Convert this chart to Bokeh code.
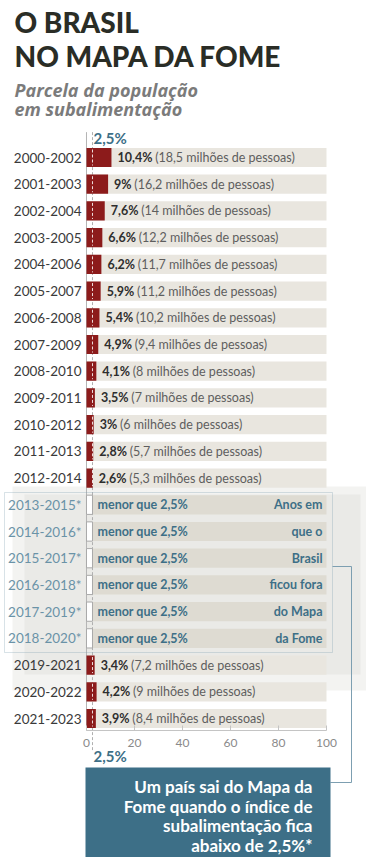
from bokeh.plotting import figure
from bokeh.models import (ColumnDataSource, Range1d, LinearAxis, FixedTicker, Label,
                          BoxAnnotation, Arrow)
from bokeh.core.properties import value
from bokeh.embed import file_html
from bokeh.resources import INLINE

# ---------------- data ----------------
periods = ["2000-2002", "2001-2003", "2002-2004", "2003-2005", "2004-2006", "2005-2007",
           "2006-2008", "2007-2009", "2008-2010", "2009-2011", "2010-2012", "2011-2013",
           "2012-2014", "2013-2015*", "2014-2016*", "2015-2017*", "2016-2018*",
           "2017-2019*", "2018-2020*", "2019-2021", "2020-2022", "2021-2023"]
values = [10.4, 9, 7.6, 6.6, 6.2, 5.9, 5.4, 4.9, 4.1, 3.5, 3, 2.8, 2.6,
          None, None, None, None, None, None, 3.4, 4.2, 3.9]
people = ["18,5", "16,2", "14", "12,2", "11,7", "11,2", "10,2", "9,4", "8", "7", "6", "5,7", "5,3",
          None, None, None, None, None, None, "7,2", "9", "8,4"]
side_note = ["Anos em", "que o", "Brasil", "ficou fora", "do Mapa", "da Fome"]
ticks = [0, 20, 40, 60, 80, 100]
threshold = 2.5
scale_max = 100

FONT = "Lato"
RED = "#8c1b1b"
TEAL = "#3d6f87"
BG = "#e9e6df"
BG_HL = "#dedbd2"

W, H = 366, 857
AXIS_Y = 21.449  # row units where the x axis sits

def sx(px):
    return px

def sy(py):
    return H - py

def fmt(v):
    s = ("%.1f" % v).rstrip("0").rstrip(".")
    return s.replace(".", ",") + "%"

BOLD_W = {",": 0.235, "%": 0.84}
def bold_width(s, size=12.5):
    return sum(BOLD_W.get(c, 0.58) for c in s) * size

rows = list(range(len(periods)))
hl = [v is None for v in values]

p = figure(width=W, height=H, output_backend="svg", toolbar_location=None,
           x_range=Range1d(-35.833, 116.667), y_range=Range1d(26.203, -5.877),
           x_axis_location=None, y_axis_location=None,
           min_border_left=0, min_border_right=0, min_border_top=0, min_border_bottom=0)
p.grid.visible = False
p.outline_line_color = None
p.background_fill_color = "white"
p.border_fill_color = "white"

# textured grey background behind the highlighted years
p.add_layout(BoxAnnotation(left=sx(12), right=sx(366), top=sy(486), bottom=sy(690),
                           left_units="screen", right_units="screen", top_units="screen",
                           bottom_units="screen", fill_color="#d8d6d0", fill_alpha=0.3,
                           line_color=None, level="underlay"))
p.add_layout(BoxAnnotation(left=sx(24), right=sx(360), top=sy(494), bottom=sy(674),
                           left_units="screen", right_units="screen", top_units="screen",
                           bottom_units="screen", fill_color="#d8d6d0", fill_alpha=0.3,
                           line_color=None, level="underlay"))

# background bars (0-100)
bg_src = ColumnDataSource(dict(y=rows, right=[scale_max] * len(rows),
                               color=[BG_HL if h else BG for h in hl]))
p.hbar(y="y", left=0, right="right", height=0.72, fill_color="color", line_color=None,
       source=bg_src)

# zero line and threshold line
p.segment(x0=[0], y0=[-0.95], x1=[0], y1=[AXIS_Y], line_color="#b5b5b5", line_width=1)
p.segment(x0=[threshold], y0=[-0.95], x1=[threshold], y1=[22.2], line_color="#b0b0b0",
          line_width=1, line_dash="3 2")

# red bars
vy = [r for r, v in zip(rows, values) if v is not None]
vv = [v for v in values if v is not None]
vp = [pp for pp in people if pp is not None]
red_src = ColumnDataSource(dict(y=vy, right=vv, lab=[fmt(v) for v in vv],
                                paren=["(%s milhões de pessoas)" % pp for pp in vp],
                                poff=[6 + bold_width(fmt(v)) + 2.5 for v in vv]))
p.hbar(y="y", left=0, right="right", height=0.72, fill_color=RED, line_color=None,
       source=red_src)
p.segment(x0=[threshold] * len(vy), y0=[y - 0.3 for y in vy], x1=[threshold] * len(vy),
          y1=[y + 0.3 for y in vy], line_color="white", line_alpha=0.85, line_width=1,
          line_dash="3 2")

# white boxes for years under 2.5%
hy = [r for r, h in zip(rows, hl) if h]
p.hbar(y=hy, left=0, right=threshold, height=0.72, fill_color="white",
       line_color="#a9a9a9", line_width=1)

# year labels
p.text(x=0, y=rows, text=periods, x_offset=-5, text_align="right", text_baseline="middle",
       text_font=value(FONT), text_font_size="13.5px",
       text_color=["#6a93a7" if h else "#3a3a3a" for h in hl])

# value labels
p.text(x="right", y="y", text="lab", x_offset=6, text_align="left", text_baseline="middle",
       text_font=value(FONT), text_font_style="bold", text_font_size="12.5px",
       text_color="#2e2e2e", source=red_src)
p.text(x="right", y="y", text="paren", x_offset="poff", text_align="left",
       text_baseline="middle", text_font=value(FONT), text_font_size="12.5px",
       text_color="#5e5e5e", source=red_src)

# highlighted rows texts
p.text(x=threshold, y=hy, text=["menor que 2,5%"] * len(hy), x_offset=5, text_align="left",
       text_baseline="middle", text_font=value(FONT), text_font_style="bold",
       text_font_size="12.5px", text_color=TEAL)
p.text(x=scale_max, y=hy, text=side_note, x_offset=-4, text_align="right",
       text_baseline="middle", text_font=value(FONT), text_font_style="bold",
       text_font_size="12.5px", text_color=TEAL)

# outline box around highlighted years
p.add_layout(BoxAnnotation(left=sx(4), right=sx(332), top=sy(492), bottom=sy(652),
                           left_units="screen", right_units="screen", top_units="screen",
                           bottom_units="screen", fill_color=None, line_color="#7d9fb1",
                           line_width=1))

# bracket linking to the note box
for (x0, y0, x1, y1) in [(332, 566, 351, 566), (351, 566, 351, 782), (351, 782, 330, 782)]:
    p.add_layout(Arrow(end=None, x_start=sx(x0), y_start=sy(y0), x_end=sx(x1), y_end=sy(y1),
                       start_units="screen", end_units="screen", line_color="#7d9fb1",
                       line_width=1))

# 2,5% labels
for yy in [-0.72, 22.42]:
    p.add_layout(Label(x=threshold, y=yy, text="2,5%", x_offset=1, text_align="left",
                       text_baseline="middle", text_font=FONT, text_font_style="bold",
                       text_font_size="15px", text_color=TEAL))

# axis (drawn at a fixed location inside the plot)
xaxis = LinearAxis(ticker=FixedTicker(ticks=ticks), bounds=(0, scale_max),
                   fixed_location=AXIS_Y)
xaxis.axis_line_color = "#c4c4c4"
xaxis.major_tick_line_color = "#c4c4c4"
xaxis.major_tick_in = 5
xaxis.major_tick_out = 0
xaxis.minor_tick_line_color = None
xaxis.major_label_text_color = "#8a8a8a"
xaxis.major_label_text_font = FONT
xaxis.major_label_text_font_size = "12px"
xaxis.major_label_standoff = 9
p.add_layout(xaxis, "below")

# titles
for t, yb in [("O BRASIL", 21), ("NO MAPA DA FOME", 55)]:
    p.add_layout(Label(x=sx(14), y=sy(yb), x_units="screen", y_units="screen", text=t,
                       text_font="Lato Black, Lato", text_font_size="28px",
                       text_color="#2a2d26", text_baseline="alphabetic"))
for t, yb in [("Parcela da população", 89), ("em subalimentação", 108.5)]:
    p.add_layout(Label(x=sx(14), y=sy(yb), x_units="screen", y_units="screen", text=t,
                       text_font="Open Sans", text_font_style="bold italic",
                       text_font_size="18px", text_color="#7b7b7b",
                       text_baseline="alphabetic"))

# note box
p.add_layout(BoxAnnotation(left=sx(85), right=sx(330), top=sy(767), bottom=sy(857),
                           left_units="screen", right_units="screen", top_units="screen",
                           bottom_units="screen", fill_color=TEAL, fill_alpha=1,
                           line_color=None))
note_lines = ["Um país sai do Mapa da", "Fome quando o índice de",
              "subalimentação fica", "abaixo de 2,5%*"]
for i, t in enumerate(note_lines):
    p.add_layout(Label(x=sx(312), y=sy(786 + 19.5 * i), x_units="screen", y_units="screen",
                       text=t, text_align="right", text_baseline="middle",
                       text_font=FONT, text_font_style="bold",
                       text_font_size="17px", text_color="white"))

open("out.html", "w").write(file_html(p, INLINE))
